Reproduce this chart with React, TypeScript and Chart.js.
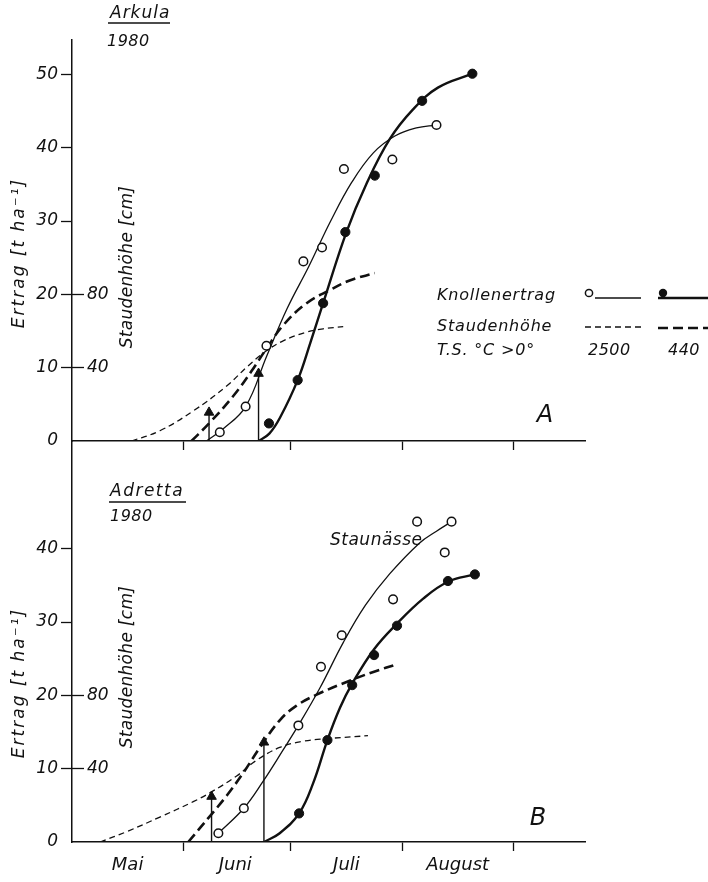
import React, { useEffect, useRef } from 'react';
import { Chart, registerables } from 'chart.js';

Chart.register(...registerables);

const INK = '#111';
const FONT = '"DejaVu Sans", "Liberation Sans", sans-serif';

// ---- axis data (days counted from 1 May) ----
const monthNames = ['Mai', 'Juni', 'Juli', 'August'];
const monthMidDays = [15.5, 45.5, 76.5, 107.5];
const monthStartDays = [31, 61, 92, 123];
const dayMax = 143;
const yieldMax = 54.7;
const heightMax = 218.8;
const yieldTicksA = [0, 10, 20, 30, 40, 50];
const yieldTicksB = [0, 10, 20, 30, 40];
const heightTicks = [40, 80];

// ---- Panel A: Arkula 1980 ----
const arkOpenDays = [41.2, 48.4, 54.2, 64.5, 69.7, 75.8, 89.3, 101.6];
const arkOpenYield = [1.2, 4.7, 13.0, 24.5, 26.4, 37.1, 38.4, 43.1];
const arkFilledDays = [54.9, 62.9, 70.0, 76.2, 84.4, 97.6, 111.6];
const arkFilledYield = [2.4, 8.3, 18.8, 28.5, 36.2, 46.4, 50.1];
const arkThinCurveDays = [37.5, 42, 48.4, 54.2, 60, 66, 72, 78, 84, 90, 96, 101.6];
const arkThinCurveYield = [0, 1.6, 4.7, 11.5, 18.1, 23.8, 29.9, 35.3, 39.3, 41.6, 42.7, 43.1];
const arkThickCurveDays = [52.0, 55, 58, 62.9, 66.5, 70, 76.5, 82, 88.6, 95, 102, 111.6];
const arkThickCurveYield = [0, 1.0, 3.2, 8.3, 13.5, 18.8, 28.5, 35.0, 41.2, 45.2, 48.2, 50.1];
const arkThinHeightDays = [16.6, 24.5, 33.8, 43.1, 49, 54.2, 59, 65, 70, 75.6];
const arkThinHeightCm = [0, 5.6, 16.4, 30, 40.8, 49.2, 54.8, 59.2, 61.2, 62.4];
const arkThickHeightDays = [33.3, 38.4, 44.9, 50, 54.2, 58.9, 65.4, 71.9, 77.4, 84.4];
const arkThickHeightCm = [0, 10, 24.4, 38, 50.4, 63.2, 75.2, 82.4, 87.6, 91.6];
const arkArrowDays = [38.2, 52.0];
const arkArrowTops = [3.9, 9.2];

// ---- Panel B: Adretta 1980 ----
const adrOpenDays = [40.8, 47.9, 63.1, 69.4, 75.2, 89.5, 96.2, 103.9, 105.8];
const adrOpenYield = [1.2, 4.6, 15.9, 23.9, 28.2, 33.1, 43.7, 39.5, 43.7];
const adrFilledDays = [63.3, 71.2, 78.1, 84.2, 90.6, 104.8, 112.3];
const adrFilledYield = [3.9, 13.9, 21.4, 25.5, 29.5, 35.6, 36.5];
const adrThinCurveDays = [40.8, 47.9, 53.3, 58.9, 63.1, 69.1, 75.6, 81.8, 88.6, 96.9, 101.6, 105.8];
const adrThinCurveYield = [1.2, 4.6, 8.3, 12.6, 15.9, 21.0, 27.2, 32.3, 36.6, 40.8, 42.4, 43.7];
const adrThickCurveDays = [53.5, 57.9, 63.3, 67.2, 71.2, 74.7, 78.1, 84.2, 90.6, 97.9, 104.8, 112.3];
const adrThickCurveYield = [0, 1.2, 3.9, 8.0, 13.9, 18.3, 21.6, 26.3, 29.8, 33.2, 35.5, 36.5];
const adrThinHeightDays = [7.8, 15.2, 24.5, 33.8, 38.4, 45.9, 51, 57.9, 64, 71.2, 82.5];
const adrThinHeightCm = [0, 5.6, 13.6, 22, 26.8, 36, 44, 51.6, 54.8, 56.4, 58];
const adrThickHeightDays = [32.4, 38.4, 43.1, 47.7, 52.4, 57.9, 62.6, 68.2, 77.4, 84, 90.9];
const adrThickHeightCm = [0, 14, 25.2, 37.6, 51.6, 66.4, 74.4, 80.4, 88, 92.8, 97.2];
const adrArrowDays = [38.9, 53.5];
const adrArrowTops = [6.2, 13.6];

const pts = (xs: number[], ys: number[]) => xs.map((x, i) => ({ x, y: ys[i] }));

function text(ctx: CanvasRenderingContext2D, s: string, x: number, y: number, size: number,
  align: CanvasTextAlign = 'left', rot = 0, spacing = 0) {
  ctx.save();
  ctx.font = `italic ${size}px ${FONT}`;
  ctx.fillStyle = INK;
  ctx.textAlign = align;
  ctx.textBaseline = 'middle';
  (ctx as any).letterSpacing = spacing + 'px';
  ctx.translate(x, y);
  if (rot) ctx.rotate(rot);
  ctx.fillText(s, 0, 0);
  ctx.restore();
}

function hline(ctx: CanvasRenderingContext2D, x1: number, x2: number, y: number, w: number, dash: number[] = []) {
  ctx.save();
  ctx.strokeStyle = INK;
  ctx.lineWidth = w;
  ctx.setLineDash(dash);
  ctx.beginPath();
  ctx.moveTo(x1, y);
  ctx.lineTo(x2, y);
  ctx.stroke();
  ctx.restore();
}

type Panel = {
  offsetY: number;
  padTop: number;
  xAxisHeight: number;
  yTicks: number[];
  showMonths: boolean;
  openDays: number[]; openYield: number[];
  filledDays: number[]; filledYield: number[];
  thinCurveDays: number[]; thinCurveYield: number[];
  thickCurveDays: number[]; thickCurveYield: number[];
  thinHeightDays: number[]; thinHeightCm: number[];
  thickHeightDays: number[]; thickHeightCm: number[];
  arrowDays: number[]; arrowTops: number[];
  decorate: (ctx: CanvasRenderingContext2D, oy: number) => void;
};

const decorateA = (ctx: CanvasRenderingContext2D, oy: number) => {
  text(ctx, 'Arkula', 110, 14 - oy, 17, 'left', 0, 1);
  hline(ctx, 108, 170, 23 - oy, 1.5);
  text(ctx, '1980', 107, 42 - oy, 16, 'left', 0, 0.5);
  text(ctx, 'Ertrag [t ha\u207B\u00B9]', 20, 253 - oy, 17, 'center', -Math.PI / 2, 2);
  text(ctx, 'Staudenhöhe [cm]', 128, 267 - oy, 17, 'center', -Math.PI / 2, 0.3);
  // legend
  text(ctx, 'Knollenertrag', 437, 296 - oy, 16, 'left', 0, 0.8);
  text(ctx, 'Staudenhöhe', 437, 327 - oy, 16, 'left', 0, 0.8);
  text(ctx, 'T.S. °C >0°', 437, 351 - oy, 16, 'left', 0, 0.8);
  text(ctx, '2500', 588, 351 - oy, 16, 'left', 0, 0.5);
  text(ctx, '440', 668, 351 - oy, 16, 'left', 0, 0.5);
  hline(ctx, 595, 641, 298 - oy, 1.3);
  ctx.save();
  ctx.strokeStyle = INK; ctx.fillStyle = '#fff'; ctx.lineWidth = 1.5;
  ctx.beginPath(); ctx.arc(589, 293 - oy, 3.6, 0, Math.PI * 2); ctx.fill(); ctx.stroke();
  ctx.restore();
  hline(ctx, 658, 708, 298 - oy, 2.4);
  ctx.save();
  ctx.fillStyle = INK;
  ctx.beginPath(); ctx.arc(663, 293 - oy, 4.2, 0, Math.PI * 2); ctx.fill();
  ctx.restore();
  hline(ctx, 585, 641, 327 - oy, 1.3, [6, 4]);
  hline(ctx, 658, 708, 328 - oy, 2.6, [10, 5]);
  text(ctx, 'A', 545, 416 - oy, 24, 'center');
};

const decorateB = (ctx: CanvasRenderingContext2D, oy: number) => {
  text(ctx, 'Adretta', 110, 492 - oy, 17, 'left', 0, 1.5);
  hline(ctx, 109, 186, 502 - oy, 1.5);
  text(ctx, '1980', 110, 517 - oy, 16, 'left', 0, 0.5);
  text(ctx, 'Staunässe', 330, 541 - oy, 17, 'left', 0, 0.5);
  text(ctx, 'Ertrag [t ha\u207B\u00B9]', 20, 683 - oy, 17, 'center', -Math.PI / 2, 2);
  text(ctx, 'Staudenhöhe [cm]', 128, 667 - oy, 17, 'center', -Math.PI / 2, 0.3);
  text(ctx, 'B', 538, 819 - oy, 24, 'center');
};

const panelA: Panel = {
  offsetY: 0, padTop: 40, xAxisHeight: 29, yTicks: yieldTicksA, showMonths: false,
  openDays: arkOpenDays, openYield: arkOpenYield,
  filledDays: arkFilledDays, filledYield: arkFilledYield,
  thinCurveDays: arkThinCurveDays, thinCurveYield: arkThinCurveYield,
  thickCurveDays: arkThickCurveDays, thickCurveYield: arkThickCurveYield,
  thinHeightDays: arkThinHeightDays, thinHeightCm: arkThinHeightCm,
  thickHeightDays: arkThickHeightDays, thickHeightCm: arkThickHeightCm,
  arrowDays: arkArrowDays, arrowTops: arkArrowTops,
  decorate: decorateA,
};

const panelB: Panel = {
  offsetY: 411, padTop: 30, xAxisHeight: 40, yTicks: yieldTicksB, showMonths: true,
  openDays: adrOpenDays, openYield: adrOpenYield,
  filledDays: adrFilledDays, filledYield: adrFilledYield,
  thinCurveDays: adrThinCurveDays, thinCurveYield: adrThinCurveYield,
  thickCurveDays: adrThickCurveDays, thickCurveYield: adrThickCurveYield,
  thinHeightDays: adrThinHeightDays, thinHeightCm: adrThinHeightCm,
  thickHeightDays: adrThickHeightDays, thickHeightCm: adrThickHeightCm,
  arrowDays: adrArrowDays, arrowTops: adrArrowTops,
  decorate: decorateB,
};

const tickFont = { family: FONT, size: 17, style: 'italic' as const };

function buildConfig(p: Panel): any {
  const curve = (data: any[], width: number, dash: number[], axis: string) => ({
    data, borderColor: INK, borderWidth: width, borderDash: dash, pointRadius: 0,
    tension: 0.4, fill: false, yAxisID: axis,
  });
  const arrow = (i: number) => ({
    data: [{ x: p.arrowDays[i], y: 0 }, { x: p.arrowDays[i], y: p.arrowTops[i] }],
    borderColor: INK, borderWidth: 1.4, pointStyle: 'triangle',
    pointRadius: (c: any) => (c.dataIndex === 1 ? 5.5 : 0),
    pointBackgroundColor: INK, pointBorderColor: INK, pointBorderWidth: 1, yAxisID: 'y',
  });
  const tickSet = p.showMonths
    ? [...monthMidDays, ...monthStartDays].sort((a, b) => a - b)
    : monthStartDays;
  return {
    type: 'line',
    data: {
      datasets: [
        { data: pts(p.openDays, p.openYield), showLine: false, pointRadius: 4.3, pointBorderWidth: 1.5,
          pointBackgroundColor: '#fff', pointBorderColor: INK, yAxisID: 'y' },
        { data: pts(p.filledDays, p.filledYield), showLine: false, pointRadius: 4.6, pointBorderWidth: 1,
          pointBackgroundColor: INK, pointBorderColor: INK, yAxisID: 'y' },
        arrow(0),
        arrow(1),
        curve(pts(p.thinCurveDays, p.thinCurveYield), 1.3, [], 'y'),
        curve(pts(p.thickCurveDays, p.thickCurveYield), 2.4, [], 'y'),
        curve(pts(p.thinHeightDays, p.thinHeightCm), 1.3, [6, 4], 'y2'),
        curve(pts(p.thickHeightDays, p.thickHeightCm), 2.6, [10, 5], 'y2'),
      ],
    },
    options: {
      animation: false,
      responsive: false,
      events: [],
      layout: { padding: { left: 0, right: 123, top: p.padTop, bottom: 0 } },
      plugins: { legend: { display: false }, tooltip: { enabled: false } },
      scales: {
        x: {
          type: 'linear', min: 0, max: dayMax,
          afterBuildTicks: (s: any) => { s.ticks = tickSet.map((v) => ({ value: v })); },
          afterFit: (s: any) => { s.height = p.xAxisHeight; },
          ticks: {
            display: p.showMonths, autoSkip: false, maxRotation: 0, minRotation: 0,
            color: INK, padding: 4, font: { family: FONT, size: 18, style: 'italic' },
            callback: (v: number) => {
              const i = monthMidDays.indexOf(v);
              return i >= 0 ? monthNames[i] : '';
            },
          },
          grid: {
            drawOnChartArea: false, drawTicks: true, tickLength: 9, tickWidth: 1.3,
            tickColor: (c: any) => (c.tick && monthStartDays.includes(c.tick.value) ? INK : 'rgba(0,0,0,0)'),
          },
          border: { color: INK, width: 1.5 },
        },
        y: {
          type: 'linear', position: 'left', min: 0, max: yieldMax, weight: 1,
          afterBuildTicks: (s: any) => { s.ticks = p.yTicks.map((v) => ({ value: v })); },
          afterFit: (s: any) => { s.width = 72; },
          ticks: { color: INK, padding: 3, font: tickFont },
          grid: {
            drawOnChartArea: false, tickLength: 11, tickWidth: 1.3,
            tickColor: (c: any) => (c.tick && c.tick.value === 0 ? 'rgba(0,0,0,0)' : INK),
          },
          border: { color: INK, width: 1.5 },
        },
        y2: {
          type: 'linear', position: 'left', min: 0, max: heightMax, weight: 0,
          afterBuildTicks: (s: any) => { s.ticks = heightTicks.map((v) => ({ value: v })); },
          afterFit: (s: any) => { s.width = 0; },
          ticks: { color: INK, mirror: true, crossAlign: 'near', padding: 15, font: tickFont },
          grid: { drawOnChartArea: false, tickLength: -12, tickWidth: 1.3, tickColor: INK },
          border: { display: false },
        },
      },
    },
    plugins: [{
      id: 'decor' + p.offsetY,
      afterDraw: (chart: any) => { p.decorate(chart.ctx, p.offsetY); },
    }],
  };
}

export default function App() {
  const refA = useRef<HTMLCanvasElement>(null);
  const refB = useRef<HTMLCanvasElement>(null);
  useEffect(() => {
    const a = new Chart(refA.current as HTMLCanvasElement, buildConfig(panelA));
    const b = new Chart(refB.current as HTMLCanvasElement, buildConfig(panelB));
    return () => { a.destroy(); b.destroy(); };
  }, []);
  return (
    <div style={{ position: 'absolute', left: 0, top: 0, width: 708, height: 882, background: '#fff' }}>
      <canvas ref={refA} width={708} height={470} style={{ position: 'absolute', left: 0, top: 0 }} />
      <canvas ref={refB} width={708} height={471} style={{ position: 'absolute', left: 0, top: 411 }} />
    </div>
  );
}
